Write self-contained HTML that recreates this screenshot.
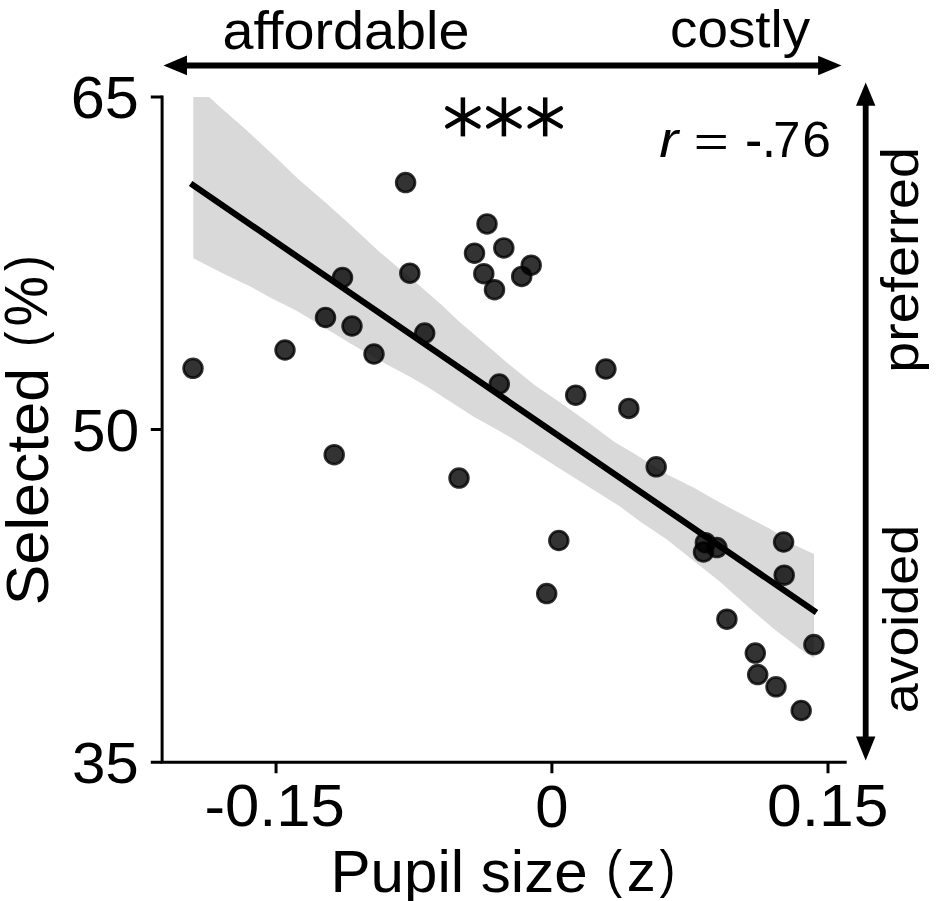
<!DOCTYPE html>
<html><head><meta charset="utf-8"><style>
html,body{margin:0;padding:0;background:#fff;width:944px;height:901px;overflow:hidden}
svg{display:block;filter:blur(0.45px)}
text{font-family:"Liberation Sans",sans-serif;font-size:100px;fill:#000}
</style></head><body>
<svg width="944" height="901" viewBox="0 0 944 901">
<rect width="944" height="901" fill="#fff"/>
<polygon points="193.3,97.1 209.2,97.1 220,107.1 246.6,130.2 273.3,155.1 298.2,179 326.6,203.4 353.3,227.4 379,251.4 420,285.9 442.2,305.4 459.9,322.3 481.6,340.8 508.3,363.8 534.9,385.2 561.6,403.5 588.3,422.6 614.9,442.2 632.8,452.8 668.3,475 694.9,488.3 716.6,500.8 743.3,515 769.9,528.8 795,545.3 814,553.9 814,658.2 800,649 773.3,628.6 746.6,605.5 720,581.8 688.8,557 666.6,539.3 640,521.5 620,506.6 586.6,485.5 553.3,464.4 520,443.2 499.9,431.2 473.3,416.6 446.6,399.2 430,388.6 412.2,378 385.5,363.7 350,343.3 314.4,321.4 296.6,310.8 270,297.4 252.2,287.6 221.1,272.5 193.3,258.3" fill="#d9d9d9"/>
<g fill="rgba(0,0,0,0.8)" stroke="rgba(0,0,0,0.8)" stroke-width="2.7">
<circle cx="193" cy="368.3" r="9.4"/>
<circle cx="285" cy="350" r="9.4"/>
<circle cx="325.5" cy="317.5" r="9.4"/>
<circle cx="342.5" cy="277.5" r="9.4"/>
<circle cx="352" cy="326" r="9.4"/>
<circle cx="374" cy="354" r="9.4"/>
<circle cx="334.2" cy="454.7" r="9.4"/>
<circle cx="405.6" cy="182.6" r="9.4"/>
<circle cx="409.8" cy="273.2" r="9.4"/>
<circle cx="424.7" cy="333.1" r="9.4"/>
<circle cx="459" cy="478.1" r="9.4"/>
<circle cx="474.5" cy="253.2" r="9.4"/>
<circle cx="483.8" cy="273.7" r="9.4"/>
<circle cx="487" cy="223.9" r="9.4"/>
<circle cx="494.5" cy="289.7" r="9.4"/>
<circle cx="503.8" cy="247.9" r="9.4"/>
<circle cx="521.7" cy="276.4" r="9.4"/>
<circle cx="531.2" cy="265.2" r="9.4"/>
<circle cx="499.3" cy="384" r="9.4"/>
<circle cx="546.7" cy="593.6" r="9.4"/>
<circle cx="558.8" cy="540.5" r="9.4"/>
<circle cx="575.7" cy="395.2" r="9.4"/>
<circle cx="605.9" cy="369" r="9.4"/>
<circle cx="628.8" cy="408.4" r="9.4"/>
<circle cx="656.2" cy="466.8" r="9.4"/>
<circle cx="703.5" cy="552" r="9.4"/>
<circle cx="705.4" cy="542.7" r="9.4"/>
<circle cx="716.9" cy="547.6" r="9.4"/>
<circle cx="726.9" cy="619.2" r="9.4"/>
<circle cx="755.3" cy="653.1" r="9.4"/>
<circle cx="757.7" cy="674.6" r="9.4"/>
<circle cx="776" cy="686.8" r="9.4"/>
<circle cx="783.6" cy="542" r="9.4"/>
<circle cx="784.2" cy="575.2" r="9.4"/>
<circle cx="801.2" cy="710.5" r="9.4"/>
<circle cx="813.9" cy="644.6" r="9.4"/>
</g>
<line x1="193.2" y1="185.3" x2="813.9" y2="610.7" stroke="#000" stroke-width="6.2" stroke-linecap="square"/>
<g stroke="#000" stroke-width="3" fill="none">
<path d="M162.1,96.9 V762.2 H845.2" stroke-linecap="square"/>
<path d="M150.8,96.9 H162.1 M150.8,429.55 H162.1 M150.8,762.2 H162.1"/>
<path d="M276.05,762.2 V773.3 M551.9,762.2 V773.3 M828,762.2 V773.3"/>
</g>
<g stroke="#000" stroke-width="5.8" fill="none">
<path d="M185,65.5 H820"/>
<path d="M865.7,104 V738"/>
</g>
<g fill="#000">
<polygon points="163.5,65.5 187,55.5 187,75.3"/>
<polygon points="841.5,65.5 818.1,55.8 818.1,75.2"/>
<polygon points="865.7,82.4 856,105.8 875.4,105.8"/>
<polygon points="865.7,760.4 856,736.4 875.4,736.4"/>
</g>
<g stroke="#000" stroke-width="4.5" stroke-linecap="butt">
<line x1="462.9" y1="97.4" x2="462.9" y2="136.4"/><line x1="447.29999999999995" y1="108.4" x2="478.5" y2="126.4" stroke-linecap="round"/><line x1="447.29999999999995" y1="126.4" x2="478.5" y2="108.4" stroke-linecap="round"/><line x1="503.9" y1="97.4" x2="503.9" y2="136.4"/><line x1="488.29999999999995" y1="108.4" x2="519.5" y2="126.4" stroke-linecap="round"/><line x1="488.29999999999995" y1="126.4" x2="519.5" y2="108.4" stroke-linecap="round"/><line x1="545.2" y1="97.4" x2="545.2" y2="136.4"/><line x1="529.6" y1="108.4" x2="560.8000000000001" y2="126.4" stroke-linecap="round"/><line x1="529.6" y1="126.4" x2="560.8000000000001" y2="108.4" stroke-linecap="round"/>
</g>
<text transform="translate(222.57,49.23) scale(0.5574,0.5292)" font-style="normal" xml:space="preserve">affordable</text>
<text transform="translate(670.01,47.32) scale(0.5486,0.5181)" font-style="normal" xml:space="preserve">costly</text>
<text transform="translate(659.16,156.80) scale(0.5706,0.4962)" font-style="italic" xml:space="preserve">r</text>
<text transform="translate(693.80,155.72) scale(0.6000,0.4250)" font-style="normal" xml:space="preserve">=</text>
<text transform="translate(744.92,158.64) scale(0.5200,0.5625)" font-style="normal" xml:space="preserve">-</text>
<text transform="translate(761.90,156.50) scale(0.5000,0.5727)" font-style="normal" xml:space="preserve">.</text>
<text transform="translate(773.27,157.00) scale(0.4870,0.4985)" font-style="normal" xml:space="preserve">7</text>
<text transform="translate(802.32,156.50) scale(0.5152,0.4958)" font-style="normal" xml:space="preserve">6</text>
<text transform="translate(70.74,118.11) scale(0.6127,0.5887)" font-style="normal" xml:space="preserve">65</text>
<text transform="translate(71.87,450.81) scale(0.6068,0.5901)" font-style="normal" xml:space="preserve">50</text>
<text transform="translate(71.89,782.92) scale(0.6019,0.5817)" font-style="normal" xml:space="preserve">35</text>
<text transform="translate(204.43,826.32) scale(0.6164,0.5845)" font-style="normal" xml:space="preserve">-0.15</text>
<text transform="translate(535.31,826.61) scale(0.5979,0.5915)" font-style="normal" xml:space="preserve">0</text>
<text transform="translate(767.00,826.32) scale(0.6242,0.5845)" font-style="normal" xml:space="preserve">0.15</text>
<text transform="translate(330.49,891.79) scale(0.6010,0.5861)" font-style="normal" xml:space="preserve">Pupil size </text>
<text transform="translate(606.24,887.23) scale(0.4769,0.5223)" font-style="normal" xml:space="preserve">(</text>
<text transform="translate(626.78,891.00) scale(0.5805,0.5755)" font-style="normal" xml:space="preserve">z</text>
<text transform="translate(659.62,887.23) scale(0.4769,0.5223)" font-style="normal" xml:space="preserve">)</text>
<text transform="translate(48.10,605.15) rotate(-90) scale(0.6098,0.5986)" xml:space="preserve">Selected </text>
<text transform="translate(43.15,347.12) rotate(-90) scale(0.4692,0.5309)" xml:space="preserve">(</text>
<text transform="translate(47.10,326.57) rotate(-90) scale(0.5679,0.6029)" xml:space="preserve">%</text>
<text transform="translate(43.15,270.97) rotate(-90) scale(0.4692,0.5309)" xml:space="preserve">)</text>
<text transform="translate(917.52,372.79) rotate(-90) scale(0.5564,0.5181)" xml:space="preserve">preferred</text>
<text transform="translate(918.11,713.35) rotate(-90) scale(0.5379,0.5083)" xml:space="preserve">avoided</text>
</svg>
</body></html>
